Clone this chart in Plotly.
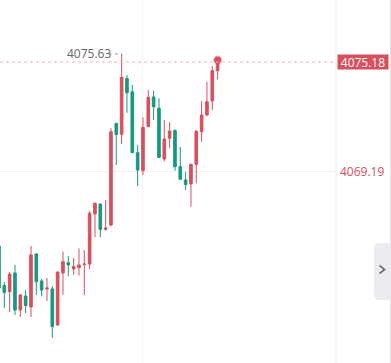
import plotly.graph_objects as go

# ---- data ----
bar_index = list(range(-1, 41))
opens = [4065.07, 4062.90, 4062.56, 4063.59, 4061.55, 4062.32, 4061.72, 4064.63, 4063.15, 4062.71,
         4062.71, 4060.73, 4063.59, 4064.15, 4063.81, 4063.88, 4064.05, 4064.08, 4066.83, 4067.38,
         4065.99, 4066.22, 4071.81, 4071.21, 4074.28, 4073.55, 4070.20, 4069.21, 4071.63, 4073.26,
         4072.64, 4069.85, 4070.99, 4071.42, 4069.43, 4068.70, 4068.48, 4069.56, 4071.35, 4072.27,
         4073.04, 4074.70]
highs = [4065.40, 4063.09, 4063.64, 4064.03, 4062.43, 4062.65, 4065.07, 4064.69, 4063.26, 4063.31,
         4062.87, 4063.67, 4064.76, 4064.52, 4064.41, 4064.94, 4064.85, 4066.99, 4067.45, 4067.41,
         4067.60, 4071.54, 4071.83, 4075.63, 4074.47, 4073.92, 4070.62, 4072.14, 4073.64, 4073.60,
         4073.19, 4071.99, 4071.88, 4071.48, 4070.51, 4069.14, 4069.58, 4071.44, 4073.04, 4074.10,
         4074.96, 4075.29]
lows = [4062.54, 4061.66, 4061.44, 4061.28, 4061.17, 4061.39, 4061.17, 4062.38, 4062.30, 4062.05,
        4060.02, 4060.70, 4062.38, 4063.42, 4063.48, 4063.44, 4062.38, 4063.81, 4065.55, 4065.55,
        4065.91, 4066.14, 4069.52, 4070.67, 4072.39, 4070.18, 4068.37, 4068.97, 4071.61, 4071.99,
        4069.93, 4069.71, 4070.44, 4069.21, 4068.70, 4068.15, 4067.23, 4068.52, 4070.80, 4072.21,
        4072.54, 4074.23]
closes = [4062.76, 4062.52, 4063.53, 4061.55, 4062.38, 4061.80, 4064.58, 4063.11, 4062.65, 4062.76,
          4060.64, 4063.64, 4064.21, 4064.03, 4063.94, 4064.03, 4064.08, 4066.87, 4067.42, 4065.98,
          4066.06, 4071.35, 4071.20, 4074.34, 4073.49, 4070.20, 4069.25, 4071.59, 4073.24, 4072.72,
          4069.94, 4070.95, 4071.39, 4069.43, 4068.74, 4068.45, 4069.56, 4071.37, 4072.27, 4073.00,
          4074.70, 4075.18]
day_high = 4075.63
last_price = 4075.18
grid_price = 4069.19
grid_bar = 26

RED = "#d6505e"
GREEN = "#17997f"

fig = go.Figure()
fig.add_trace(go.Candlestick(
    x=bar_index, open=opens, high=highs, low=lows, close=closes,
    increasing=dict(line=dict(color=RED, width=1), fillcolor=RED),
    decreasing=dict(line=dict(color=GREEN, width=1), fillcolor=GREEN),
    whiskerwidth=0, hoverinfo="skip", showlegend=False,
))
# last price dot
fig.add_trace(go.Scatter(
    x=[bar_index[-1]], y=[highs[-1]], mode="markers",
    marker=dict(size=7, color=RED, line=dict(color="rgba(214,80,94,0.35)", width=2)),
    hoverinfo="skip", showlegend=False,
))
# last price dotted line
fig.add_shape(type="line", xref="paper", yref="y", x0=0, x1=336/391, y0=last_price, y1=last_price,
              line=dict(color="#eeb4bb", width=1, dash="dot"))
# short dotted line to day high
fig.add_shape(type="line", xref="x", yref="y", x0=bar_index[0] + 20.6, x1=22, y0=day_high, y1=day_high,
              line=dict(color="#999999", width=1, dash="dot"))

fig.add_annotation(x=20.4, y=day_high, xref="x", yref="y", text=f"{day_high:.2f}",
                   showarrow=False, xanchor="right", yanchor="middle",
                   font=dict(family="Open Sans", size=12, color="#666666"))

# price labels on the right
fig.add_annotation(x=337/391, y=last_price, xref="paper", yref="y", text=f"{last_price:.2f}",
                   showarrow=False, xanchor="left", yanchor="middle", bgcolor=RED,
                   width=50, height=14, borderpad=0,
                   font=dict(family="Open Sans", size=12, color="white"))
fig.add_annotation(x=338/391, y=grid_price, xref="paper", yref="y", text=f"{grid_price:.2f}",
                   showarrow=False, xanchor="left", yanchor="middle",
                   font=dict(family="Open Sans", size=12, color=RED))

# separators
fig.add_shape(type="line", xref="paper", yref="paper", x0=336/391, x1=336/391, y0=0, y1=1,
              line=dict(color="#eeeeee", width=1))
fig.add_shape(type="line", xref="paper", yref="paper", x0=390.5/391, x1=390.5/391, y0=0, y1=1,
              line=dict(color="#e6e6e6", width=1))

# side tab with chevron
x0, x1 = 374/391, 391/391
y0, y1 = 1 - 300/363, 1 - 243/363
rx, ry = 5/391, 5/363
path = (f"M {x1},{y0} L {x0+rx},{y0} Q {x0},{y0} {x0},{y0+ry} L {x0},{y1-ry} "
        f"Q {x0},{y1} {x0+rx},{y1} L {x1},{y1} Z")
fig.add_shape(type="path", xref="paper", yref="paper", path=path,
              fillcolor="#ececf0", line=dict(width=0))
cx, cy = 382/391, 1 - 269.5/363
fig.add_shape(type="path", xref="paper", yref="paper",
              path=f"M {cx-2.5/391},{cy+4/363} L {cx+2.5/391},{cy} L {cx-2.5/391},{cy-4/363}",
              line=dict(color="#555555", width=1.5))

fig.update_layout(
    width=391, height=363,
    margin=dict(l=0, r=0, t=0, b=0),
    paper_bgcolor="white", plot_bgcolor="white",
    xaxis=dict(domain=[0, 336/391], range=[-0.81, 62.2], rangeslider=dict(visible=False),
               tickvals=[grid_bar], showticklabels=False, showgrid=True, gridcolor="#f2f2f2",
               zeroline=False, showline=False, ticks=""),
    yaxis=dict(range=[4058.64, 4078.59], tickvals=[grid_price], showticklabels=False,
               showgrid=True, gridcolor="#f2f2f2", zeroline=False, showline=False, ticks=""),
    boxgap=0.3,
    hovermode=False,
)
fig.write_html("out.html")
